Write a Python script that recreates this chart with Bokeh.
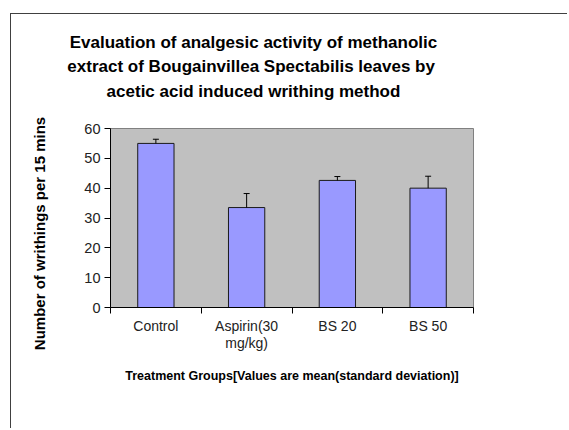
from bokeh.plotting import figure
from bokeh.models import (Range1d, FixedTicker, Whisker, TeeHead, ColumnDataSource, Label)
from bokeh.embed import file_html
from bokeh.resources import INLINE

# ---- data ----
categories = ["Control", "Aspirin(30\nmg/kg)", "BS 20", "BS 50"]
means = [55.0, 33.5, 42.6, 40.0]
sds = [1.4, 4.7, 1.3, 4.0]
y_ticks = [0, 10, 20, 30, 40, 50, 60]
title_text = ("Evaluation of analgesic activity of methanolic\n"
              "extract of Bougainvillea Spectabilis leaves  by\n"
              "acetic acid induced writhing method")
y_label = "Number of writhings per 15 mins"
x_label = "Treatment Groups[Values are mean(standard deviation)]"

xs = [i + 0.5 for i in range(len(categories))]
bounds = [i for i in range(len(categories) + 1)]
uppers = [m + s for m, s in zip(means, sds)]
src = ColumnDataSource(dict(x=xs, mean=means, upper=uppers, lower=means))

REG = "Liberation Sans"

p = figure(width=557, height=415, output_backend="svg", toolbar_location=None,
           x_range=Range1d(0, len(categories)), y_range=Range1d(0, 60),
           min_border_left=99, min_border_right=95,
           min_border_top=114, min_border_bottom=122)
p.margin = (13, 0, 0, 10)
p.styles = {"border-top": "1px solid #404040", "border-left": "1px solid #404040"}
p.background_fill_color = "#C0C0C0"
p.border_fill_color = "white"
p.outline_line_color = "#808080"
p.grid.visible = False

p.vbar(x="x", top="mean", width=0.4, source=src, fill_color="#9999FF",
       line_color="#1a1a1a", line_width=1)

p.add_layout(Whisker(base="x", upper="upper", lower="lower", source=src,
                     line_color="black", line_width=1, level="annotation",
                     upper_head=TeeHead(size=6, line_color="black", line_width=1),
                     lower_head=None))

xa = p.xaxis[0]
xa.ticker = FixedTicker(ticks=xs, minor_ticks=bounds)
xa.major_label_overrides = {x: c for x, c in zip(xs, categories)}
xa.major_tick_in = 0
xa.major_tick_out = 0
xa.minor_tick_in = 0
xa.minor_tick_out = 6
xa.minor_tick_line_color = "black"
xa.axis_line_color = "black"
xa.major_label_text_font = REG
xa.major_label_text_font_size = "14px"
xa.major_label_text_color = "#222222"
xa.major_label_standoff = 4
xa.major_label_text_line_height = 1.1
xa.axis_label = x_label
xa.axis_label_text_font = REG
xa.axis_label_text_font_style = "bold"
xa.axis_label_text_font_size = "12.5px"
xa.axis_label_text_color = "black"
xa.axis_label_standoff = 15

ya = p.yaxis[0]
ya.ticker = FixedTicker(ticks=y_ticks)
ya.major_tick_in = 0
ya.major_tick_out = 6
ya.minor_tick_line_color = None
ya.axis_line_color = "black"
ya.major_tick_line_color = "black"
ya.major_label_text_font = REG
ya.major_label_text_font_size = "14.5px"
ya.major_label_text_color = "#222222"
ya.major_label_standoff = 4

# title label in the top side panel, y label in the left side panel
p.add_layout(Label(x=143, y=96, x_units="screen", y_units="screen", text=title_text,
                   text_align="center", text_baseline="top", text_font=REG,
                   text_font_style="bold", text_font_size="17px",
                   text_line_height=1.29, text_color="black"), "above")
p.add_layout(Label(x=-25, y=74, x_units="screen", y_units="screen", text=y_label,
                   angle=90, angle_units="deg", text_align="center",
                   text_baseline="middle", text_font=REG, text_font_style="bold",
                   text_font_size="15px", text_color="black"), "left")

open("out.html", "w").write(file_html(p, INLINE))
